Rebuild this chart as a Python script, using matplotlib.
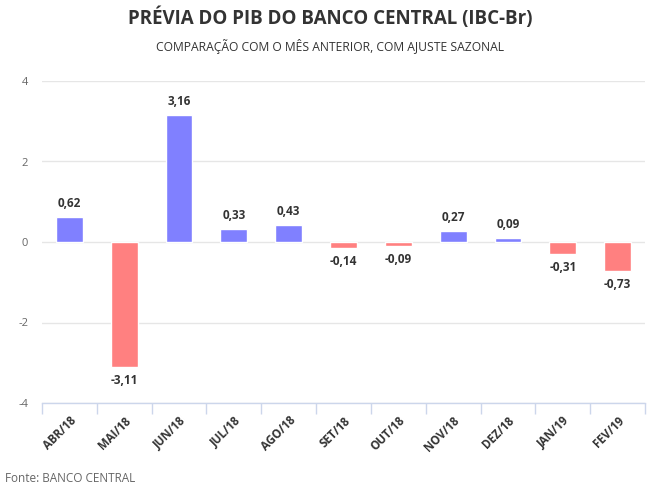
import matplotlib.pyplot as plt
from matplotlib.ticker import FixedLocator

plt.rcParams['font.family'] = ['Open Sans', 'DejaVu Sans']

months = ["ABR/18", "MAI/18", "JUN/18", "JUL/18", "AGO/18", "SET/18",
          "OUT/18", "NOV/18", "DEZ/18", "JAN/19", "FEV/19"]
values = [0.62, -3.11, 3.16, 0.33, 0.43, -0.14, -0.09, 0.27, 0.09, -0.31, -0.73]
yticks = [-4, -2, 0, 2, 4]

blue = "#8080ff"
red = "#ff8080"

fig = plt.figure(figsize=(6.61, 4.88), dpi=100)
ax = fig.add_axes([42 / 661, 1 - 403 / 488, 603 / 661, 322 / 488])

x = list(range(len(months)))
colors = [blue if v >= 0 else red for v in values]
ax.bar(x, values, width=0.49, color=colors, edgecolor="white", linewidth=1, zorder=3)

for xi, v in zip(x, values):
    label = f"{v:.2f}".replace(".", ",")
    if v >= 0:
        ax.annotate(label, (xi, v), xytext=(0, 5), textcoords="offset points",
                    ha="center", va="bottom", fontsize=8.5, fontweight="bold", color="#333333")
    else:
        ax.annotate(label, (xi, v), xytext=(0, -5), textcoords="offset points",
                    ha="center", va="top", fontsize=8.5, fontweight="bold", color="#333333")

ax.set_xlim(-0.5, len(months) - 0.5)
ax.set_ylim(-4, 4)
ax.set_yticks(yticks)
ax.set_yticklabels([str(t) for t in yticks])
ax.grid(axis="y", color="#e6e6e6", linewidth=1, zorder=0)

for s in ["top", "right", "left"]:
    ax.spines[s].set_visible(False)
ax.spines["bottom"].set_color("#ccd6eb")
ax.spines["bottom"].set_linewidth(1)

ax.set_xticks(x)
ax.set_xticklabels(months, rotation=45, ha="right", rotation_mode="anchor",
                   fontsize=8.3, fontweight="bold", color="#333333")
ax.xaxis.set_minor_locator(FixedLocator([i - 0.5 for i in range(len(months) + 1)]))
ax.tick_params(axis="x", which="major", length=0, pad=8)
ax.tick_params(axis="x", which="minor", length=8, color="#ccd6eb", width=1)
ax.tick_params(axis="y", length=0, pad=10, labelsize=8, labelcolor="#666666")

fig.text(0.5, 1 - 18 / 488, "PRÉVIA DO PIB DO BANCO CENTRAL (IBC-Br)", ha="center", va="center",
         fontsize=13.5, fontweight="bold", color="#333333")
fig.text(0.5, 1 - 47 / 488, "COMPARAÇÃO COM O MÊS ANTERIOR, COM AJUSTE SAZONAL", ha="center",
         va="center", fontsize=8.7, color="#333333")
fig.text(5 / 661, 1 - 478 / 488, "Fonte: BANCO CENTRAL", ha="left", va="center",
         fontsize=8.5, color="#666666")

fig.savefig("out.png", dpi=100)
